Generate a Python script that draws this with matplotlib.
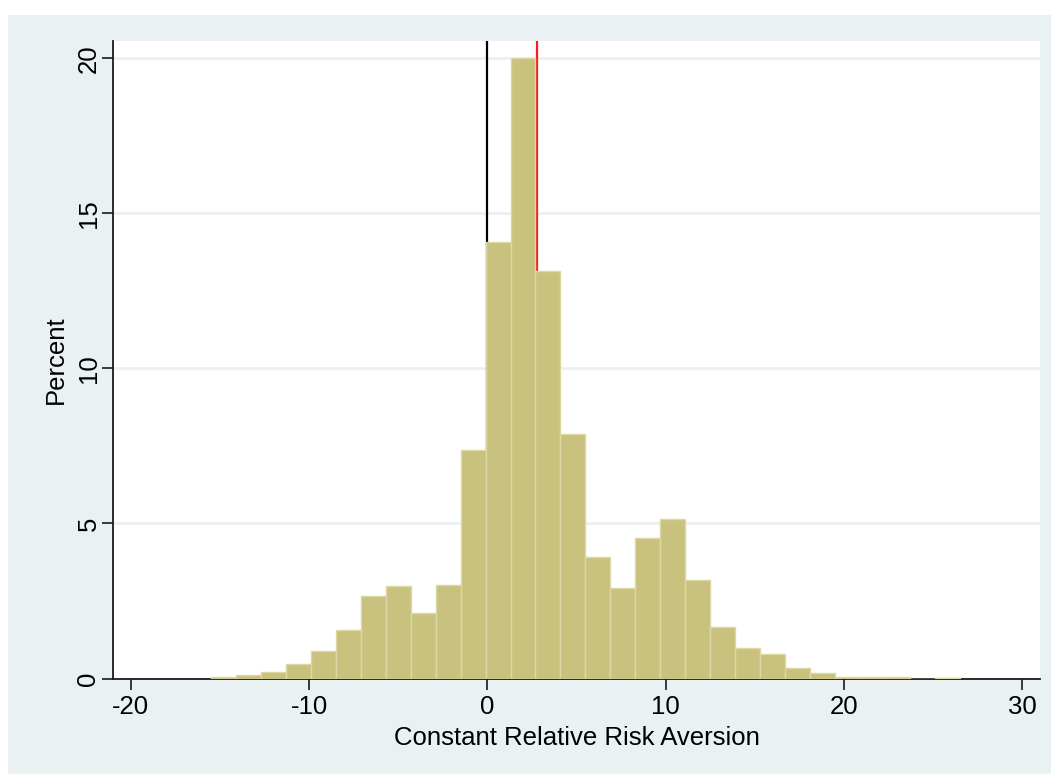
import matplotlib
matplotlib.use("Agg")
import matplotlib.pyplot as plt
import numpy as np

plt.rcParams['font.family'] = ['Liberation Sans', 'DejaVu Sans']
plt.rcParams['axes.unicode_minus'] = False

# Data
bin_edges = [-15.5, -14.1, -12.7, -11.3, -9.9, -8.5, -7.1, -5.7, -4.3, -2.9,
             -1.5, -0.1, 1.3, 2.7, 4.1, 5.5, 6.9, 8.3, 9.7, 11.1,
             12.5, 13.9, 15.3, 16.7, 18.1, 19.5, 20.9, 22.3, 23.7, 25.1, 26.5]
percent = [0.04, 0.10, 0.20, 0.47, 0.89, 1.57, 2.66, 2.99, 2.10, 3.02,
           7.37, 14.09, 20.0, 13.15, 7.87, 3.91, 2.93, 4.52, 5.15, 3.18,
           1.67, 0.99, 0.78, 0.33, 0.19, 0.06, 0.04, 0.04, 0.0, 0.03]
zero_line = 0.0
mean_line = 2.76
x_ticks = [-20, -10, 0, 10, 20, 30]
y_ticks = [0, 5, 10, 15, 20]
x_label = "Constant Relative Risk Aversion"
y_label = "Percent"

W, H = 1051, 774
fig = plt.figure(figsize=(W / 100, H / 100), dpi=100, facecolor='white')
bg = '#EAF1F2'

# background panel (behind the plot area)
bgax = fig.add_axes([8 / W, 0, 1 - 8 / W, 1 - 15 / H], zorder=-10)
bgax.set_facecolor(bg)
bgax.set_xticks([])
bgax.set_yticks([])
for s in bgax.spines.values():
    s.set_visible(False)

ax = fig.add_axes([113 / W, 1 - 678.5 / H, (1040 - 113) / W, (678.5 - 41) / H], zorder=1)
ax.set_facecolor('white')

edges = np.array(bin_edges)
ax.bar(edges[:-1], percent, width=np.diff(edges), align='edge',
       color='#C9C17E', edgecolor='#DDD7A3', linewidth=1.0, zorder=3)

ax.axvline(zero_line, color='black', lw=1.6, zorder=2)
ax.axvline(mean_line, color='#FF1A1A', lw=1.6, zorder=2)

ax.set_xlim(-21, 31)
ax.set_ylim(0, 20.56)
ax.set_xticks(x_ticks)
ax.set_yticks(y_ticks)
ax.set_yticklabels([str(v) for v in y_ticks], rotation=90, va='center')
ax.yaxis.grid(True, color='#EAF1F2', lw=2.0, zorder=1)
ax.set_axisbelow(True)

for s in ['top', 'right']:
    ax.spines[s].set_visible(False)
for s in ['left', 'bottom']:
    ax.spines[s].set_color('#1a1a1a')
    ax.spines[s].set_linewidth(1.3)

ax.tick_params(axis='both', direction='out', length=8, width=1.2, color='#1a1a1a',
               labelsize=18.5, labelcolor='black')
ax.tick_params(axis='y', pad=1)
ax.tick_params(axis='x', pad=4)

ax.set_xlabel(x_label, fontsize=18.5, labelpad=5)
ax.set_ylabel(y_label, fontsize=18.5, labelpad=6)

fig.savefig('out.png', dpi=100, facecolor='white')
